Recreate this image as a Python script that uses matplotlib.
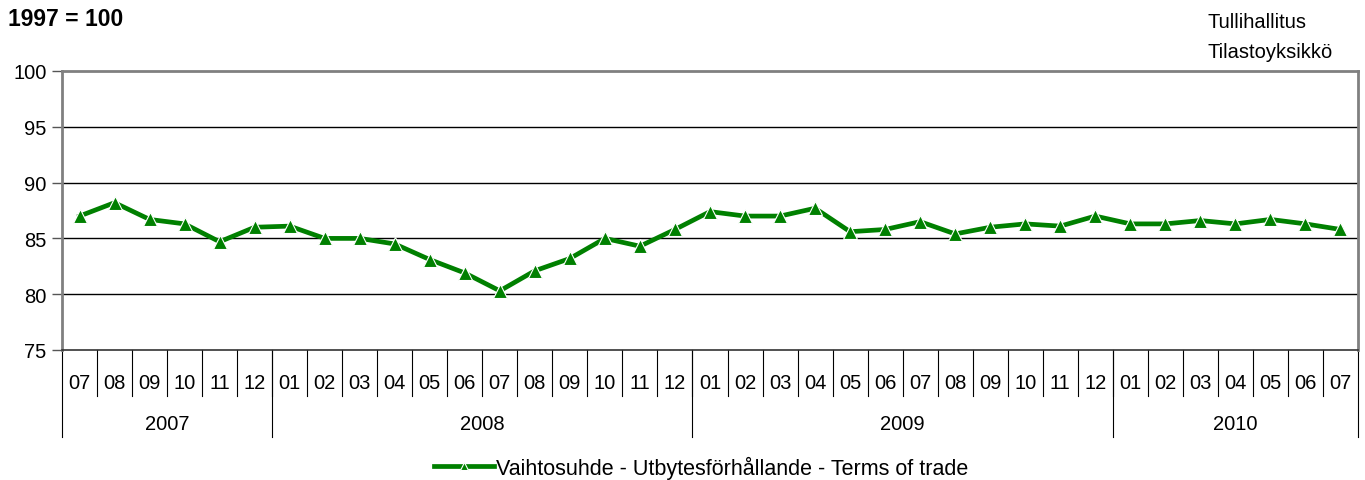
import matplotlib
matplotlib.use("Agg")
from matplotlib import pyplot as plt

plt.rcParams['font.family'] = ['Liberation Sans', 'DejaVu Sans']

months = ['07', '08', '09', '10', '11', '12',
          '01', '02', '03', '04', '05', '06', '07', '08', '09', '10', '11', '12',
          '01', '02', '03', '04', '05', '06', '07', '08', '09', '10', '11', '12',
          '01', '02', '03', '04', '05', '06', '07']
years = ['2007', '2008', '2009', '2010']
year_counts = [6, 12, 12, 7]

terms_of_trade = [87.0, 88.2, 86.7, 86.3, 84.7, 86.0,
                  86.1, 85.0, 85.0, 84.5, 83.1, 81.9, 80.3, 82.1, 83.2, 85.0, 84.3, 85.8,
                  87.4, 87.0, 87.0, 87.7, 85.6, 85.8, 86.5, 85.4, 86.0, 86.3, 86.1, 87.0,
                  86.3, 86.3, 86.6, 86.3, 86.7, 86.3, 85.8]

fig = plt.figure(figsize=(13.65, 4.81), dpi=100)
ax = fig.add_axes([62 / 1365, 1 - 351 / 481, 1296 / 1365, 279 / 481])

x = list(range(len(months)))
ax.plot(x, terms_of_trade, color='#008000', linewidth=3.4, marker='^', markersize=9.5,
        markerfacecolor='#008000', markeredgecolor='white', markeredgewidth=0.8,
        label='Vaihtosuhde - Utbytesförhållande - Terms of trade', zorder=3)

ax.set_xlim(-0.5, len(months) - 0.5)
ax.set_ylim(75, 100)
ax.set_yticks([75, 80, 85, 90, 95, 100])
ax.tick_params(axis='y', labelsize=14.5, length=7, width=1, color='#555555', pad=4)
ax.set_xticks([])

for v in [80, 85, 90, 95]:
    ax.axhline(v, color='black', linewidth=1, zorder=1)

for side in ['left', 'top', 'right']:
    ax.spines[side].set_color('#808080')
    ax.spines[side].set_linewidth(2)
ax.spines['bottom'].set_color('#333333')
ax.spines['bottom'].set_linewidth(1.2)

# category axis: month labels, year labels and separators
trans = ax.get_xaxis_transform()
for i, m in enumerate(months):
    ax.text(i, -0.115, m, transform=trans, ha='center', va='center', fontsize=14.5)
    if i > 0:
        ax.plot([i - 0.5, i - 0.5], [0, -0.165], transform=trans, color='black',
                linewidth=0.8, clip_on=False)

start = 0
bounds = [-0.5]
for y, n in zip(years, year_counts):
    ax.text(start + (n - 1) / 2, -0.262, y, transform=trans, ha='center', va='center', fontsize=14.5)
    start += n
    bounds.append(start - 0.5)
for b in bounds:
    ax.plot([b, b], [0, -0.312], transform=trans, color='black', linewidth=0.8, clip_on=False)

fig.text(8 / 1365, 1 - 20 / 481, '1997 = 100', fontsize=16.5, fontweight='bold', ha='left', va='center')
fig.text(1208 / 1365, 1 - 22 / 481, 'Tullihallitus', fontsize=14.5, ha='left', va='center')
fig.text(1208 / 1365, 1 - 52 / 481, 'Tilastoyksikkö', fontsize=14.5, ha='left', va='center')

fig.legend(loc='center', bbox_to_anchor=(701 / 1365, 1 - 468 / 481), frameon=False,
           fontsize=15.5, handlelength=2.8, handletextpad=0.05, markerscale=0.65)

fig.savefig('out.png', dpi=100)
